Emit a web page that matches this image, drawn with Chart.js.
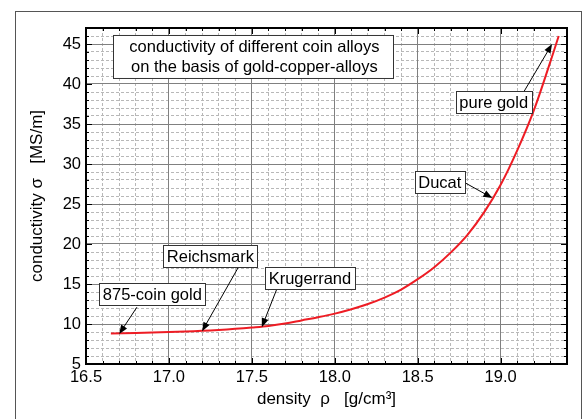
<!DOCTYPE html>
<html>
<head>
<meta charset="utf-8">
<script src="https://cdn.jsdelivr.net/npm/chart.js@4.4.1/dist/chart.umd.min.js"></script>
<style>
  html, body { margin: 0; padding: 0; background: #fff; }
  canvas { display: block; }
</style>
</head>
<body>
<canvas id="Coin_Chart" width="586" height="419"></canvas>
<script>
// curve: density (g/cm3) vs conductivity (MS/m) of gold-copper alloys
const density = [16.65, 16.8, 16.9, 17.0, 17.1, 17.2, 17.3, 17.4, 17.5, 17.6, 17.7, 17.8, 17.9, 18.0, 18.1, 18.2, 18.3, 18.4, 18.5, 18.6, 18.7, 18.8, 18.9, 19.0, 19.1, 19.2, 19.3, 19.35];
const conductivity = [8.8, 8.88, 8.94, 9.0, 9.07, 9.15, 9.26, 9.4, 9.56, 9.75, 10.05, 10.45, 10.85, 11.3, 11.85, 12.5, 13.3, 14.3, 15.6, 17.1, 18.95, 21.15, 23.95, 27.4, 31.7, 36.7, 42.8, 46.0];

// marked coins (arrow tip on the curve)
const coinNames = ['875-coin gold', 'Reichsmark', 'Krugerrand', 'Ducat', 'pure gold'];
const coinDensity = [16.70, 17.20, 17.56, 18.95, 19.31];
const coinConductivity = [8.75, 9.1, 9.6, 25.75, 45.0];

// label box centres and arrow starts, in axis units
const labelAt = [[16.90, 13.7], [17.25, 18.5], [17.85, 15.75], [18.633, 27.7], [18.958, 37.7]];
const arrowFrom = [[16.807, 12.1], [17.416, 17.0], [17.65, 14.35], [18.777, 27.75], [19.139, 39.0]];

const titleLines = ['conductivity of different coin alloys', 'on the basis of gold-copper-alloys'];

const FONT = '"Liberation Sans", Arial, sans-serif';
const FS = 16.5;

function isMajor(v, step) {
    return Math.abs(v / step - Math.round(v / step)) < 1e-6;
}

const framePlugin = {
    id: 'frame',
    beforeDraw(chart) {
        const ctx = chart.ctx;
        ctx.save();
        ctx.fillStyle = '#fff';
        ctx.fillRect(0, 0, chart.width, chart.height);
        ctx.strokeStyle = '#555';
        ctx.lineWidth = 1;
        ctx.strokeRect(15.5, 11.5, 566, 430);
        ctx.restore();
    },
    afterDraw(chart) {
        const ctx = chart.ctx;
        const a = chart.chartArea;
        const xs = chart.scales.x, ys = chart.scales.y;
        ctx.save();

        // inward ticks on all four sides
        ctx.strokeStyle = '#000';
        ctx.lineWidth = 1;
        ctx.beginPath();
        for (let i = 165; i <= 194; i++) {
            const px = Math.round(xs.getPixelForValue(i / 10)) + 0.5;
            const len = i % 5 === 0 ? 6 : 3;
            ctx.moveTo(px, a.bottom); ctx.lineTo(px, a.bottom - len);
            ctx.moveTo(px, a.top); ctx.lineTo(px, a.top + len);
        }
        for (let v = 5; v <= 47; v++) {
            const py = Math.round(ys.getPixelForValue(v)) + 0.5;
            const len = v % 5 === 0 ? 6 : 3;
            ctx.moveTo(a.left, py); ctx.lineTo(a.left + len, py);
            ctx.moveTo(a.right, py); ctx.lineTo(a.right - len, py);
        }
        ctx.stroke();

        ctx.lineWidth = 2;
        ctx.strokeRect(a.left, a.top, a.right - a.left, a.bottom - a.top);

        // title box
        const tx = xs.getPixelForValue(17.515), ty = ys.getPixelForValue(43.44);
        ctx.font = FS + 'px ' + FONT;
        ctx.fillStyle = '#fff';
        ctx.fillRect(113, ty - 21.5, 280, 43);
        ctx.strokeStyle = '#333';
        ctx.lineWidth = 1;
        ctx.strokeRect(113.5, ty - 21, 280, 43);
        ctx.fillStyle = '#000';
        ctx.textAlign = 'center';
        ctx.textBaseline = 'middle';
        ctx.fillText(titleLines[0], tx, ty - 9);
        ctx.fillText(titleLines[1], tx, ty + 11);

        // coin labels with arrows
        coinNames.forEach((name, i) => {
            const x1 = xs.getPixelForValue(arrowFrom[i][0]), y1 = ys.getPixelForValue(arrowFrom[i][1]);
            const x2 = xs.getPixelForValue(coinDensity[i]), y2 = ys.getPixelForValue(coinConductivity[i]);
            const ang = Math.atan2(y2 - y1, x2 - x1);
            ctx.strokeStyle = '#000';
            ctx.lineWidth = 1;
            ctx.beginPath();
            ctx.moveTo(x1, y1);
            ctx.lineTo(x2 - 6 * Math.cos(ang), y2 - 6 * Math.sin(ang));
            ctx.stroke();
            ctx.fillStyle = '#000';
            ctx.beginPath();
            ctx.moveTo(x2, y2);
            ctx.lineTo(x2 - 9 * Math.cos(ang) + 3.5 * Math.sin(ang), y2 - 9 * Math.sin(ang) - 3.5 * Math.cos(ang));
            ctx.lineTo(x2 - 9 * Math.cos(ang) - 3.5 * Math.sin(ang), y2 - 9 * Math.sin(ang) + 3.5 * Math.cos(ang));
            ctx.closePath();
            ctx.fill();

            const cx = xs.getPixelForValue(labelAt[i][0]), cy = ys.getPixelForValue(labelAt[i][1]);
            const w = Math.round(ctx.measureText(name).width + 7), h = 22;
            const bx = Math.round(cx - w / 2) + 0.5, by = Math.round(cy - h / 2) + 0.5;
            ctx.fillStyle = '#fff';
            ctx.fillRect(bx, by, w, h);
            ctx.strokeStyle = '#333';
            ctx.strokeRect(bx, by, w, h);
            ctx.fillStyle = '#000';
            ctx.fillText(name, cx, cy + 1);
        });
        ctx.restore();
    }
};

const ctx = document.getElementById('Coin_Chart').getContext('2d');

new Chart(ctx, {
    type: 'scatter',
    data: {
        datasets: [{
            data: density.map((d, i) => ({ x: d, y: conductivity[i] })),
            showLine: true,
            borderColor: '#ee1c24',
            borderWidth: 2,
            pointRadius: 0,
            tension: 0.35,
            xAxisID: 'x',
            yAxisID: 'y'
        }]
    },
    options: {
        responsive: false,
        animation: false,
        layout: { padding: { left: 0, top: 28, right: 19, bottom: 0 } },
        plugins: {
            legend: { display: false },
            tooltip: { enabled: false }
        },
        scales: {
            xm: {
                type: 'linear', axis: 'x', position: 'bottom',
                min: 16.5, max: 19.4,
                ticks: { display: false, stepSize: 0.1, includeBounds: false },
                grid: {
                    drawTicks: false, lineWidth: 1, borderDash: [3, 2],
                    color: c => isMajor(c.tick.value, 0.5) ? 'rgba(0,0,0,0)' : '#b8b8b8'
                },
                border: { display: false, dash: [3, 2] },
                afterFit: s => { s.height = 0; }
            },
            ym: {
                type: 'linear', axis: 'y', position: 'left',
                min: 5, max: 47,
                ticks: { display: false, stepSize: 1, includeBounds: false },
                grid: {
                    drawTicks: false, lineWidth: 1, borderDash: [3, 2],
                    color: c => isMajor(c.tick.value, 5) ? 'rgba(0,0,0,0)' : '#b8b8b8'
                },
                border: { display: false, dash: [3, 2] },
                afterFit: s => { s.width = 0; }
            },
            x: {
                type: 'linear', position: 'bottom',
                min: 16.5, max: 19.4,
                ticks: {
                    stepSize: 0.5, includeBounds: false, padding: 4,
                    color: '#000', font: { family: FONT, size: FS },
                    callback: v => v.toFixed(1)
                },
                grid: { drawTicks: false, color: '#808080', lineWidth: 1 },
                border: { display: false },
                title: {
                    display: true, text: 'density  ρ   [g/cm³]',
                    color: '#000', font: { family: FONT, size: 17 },
                    padding: { top: 0, bottom: 9 }
                },
                afterFit: s => { s.height = 55; }
            },
            y: {
                type: 'linear', position: 'left',
                min: 5, max: 47,
                ticks: {
                    stepSize: 5, includeBounds: false, padding: 5,
                    color: '#000', font: { family: FONT, size: FS },
                    callback: v => String(v)
                },
                grid: { drawTicks: false, color: '#808080', lineWidth: 1 },
                border: { display: false },
                title: {
                    display: true, text: 'conductivity σ   [MS/m]',
                    color: '#000', font: { family: FONT, size: 17 },
                    padding: { top: 27, bottom: 0 }
                },
                afterFit: s => { s.width = 86; }
            }
        }
    },
    plugins: [framePlugin]
});
</script>
</body>
</html>
